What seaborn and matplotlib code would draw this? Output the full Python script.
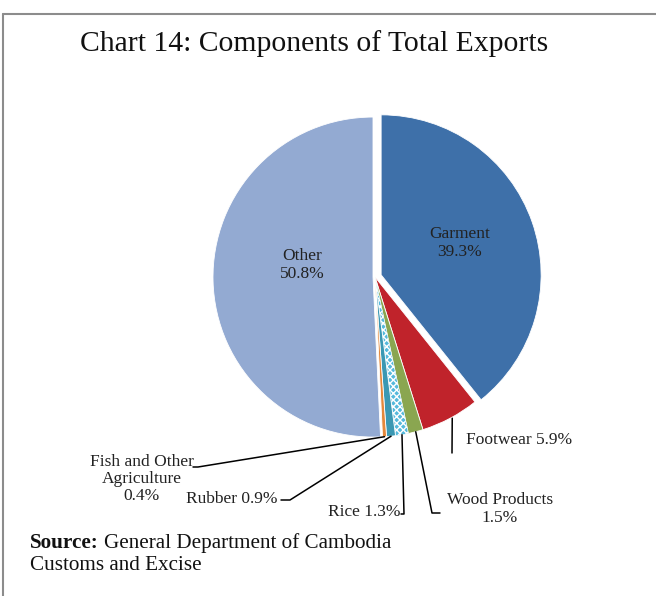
import math
import numpy as np
import matplotlib
matplotlib.use("Agg")
import matplotlib.pyplot as plt
import seaborn as sns

# data
components = ["Garment", "Footwear", "Wood Products", "Rice", "Rubber",
              "Fish and Other Agriculture", "Other"]
shares = [39.3, 5.9, 1.5, 1.3, 0.9, 0.4, 50.8]
colors = ["#3E70A9", "#C0232B", "#8AA650", "#55B9DC", "#3B98B3", "#E4883B", "#93AAD2"]

W, H = 656, 596

sns.set_theme(style="white")
plt.rcParams["font.family"] = ["Liberation Serif", "DejaVu Serif"]


def P(x, y):
    # pixel coords (origin top-left) -> data coords
    return (x, H - y)


fig = plt.figure(figsize=(W / 100, H / 100), dpi=100)
ax = fig.add_axes([0, 0, 1, 1])
ax.set_xlim(0, W)
ax.set_ylim(0, H)
ax.set_aspect("equal")
ax.axis("off")

cx, cy = P(375, 277)
radius = 160
explode = [6.5, 0, 0, 0, 0, 0, 2]
wedges, _ = ax.pie(shares, colors=colors, startangle=90, counterclock=False,
                   radius=radius, center=(cx, cy), explode=explode,
                   wedgeprops=dict(edgecolor="white", linewidth=0.6))
wedges[3].set_hatch("xxxxx")
wedges[3].set_edgecolor("white")
wedges[3].set_linewidth(0.3)
ax.set_xlim(0, W)
ax.set_ylim(0, H)

fs = 12.5
tc = "#222222"

# inside labels
ax.text(*P(460, 243), "Garment\n39.3%", ha="center", va="center",
        fontsize=fs, color=tc, linespacing=1.1)
ax.text(*P(302, 265), "Other\n50.8%", ha="center", va="center",
        fontsize=fs, color=tc, linespacing=1.1)


def edge_point(i, frac=1.0):
    w = wedges[i]
    t = math.radians((w.theta1 + w.theta2) / 2)
    x0, y0 = w.center
    return (x0 + frac * w.r * math.cos(t), y0 + frac * w.r * math.sin(t))


lw = 1.1
# Footwear
s = edge_point(1, 1.0)
ax.plot([s[0] + 2, 452], [s[1], H - 453], color="black", lw=lw)
ax.text(*P(466, 440), "Footwear 5.9%", ha="left", va="center", fontsize=fs, color=tc)
# Wood products
s = edge_point(2, 1.0)
ax.plot([s[0], 432, 440], [s[1], H - 513, H - 513], color="black", lw=lw)
ax.text(*P(500, 509), "Wood Products\n1.5%", ha="center", va="center",
        fontsize=fs, color=tc, linespacing=1.1)
# Rice
s = edge_point(3, 1.0)
ax.plot([s[0], 404, 401], [s[1], H - 514, H - 514], color="black", lw=lw)
ax.text(*P(400, 512), "Rice 1.3%", ha="right", va="center", fontsize=fs, color=tc)
# Rubber
s = edge_point(4, 1.0)
ax.plot([s[0], 290, 281], [s[1], H - 500, H - 500], color="black", lw=lw)
ax.text(*P(278, 499), "Rubber 0.9%", ha="right", va="center", fontsize=fs, color=tc)
# Fish and other agriculture
s = edge_point(5, 1.0)
ax.plot([s[0], 198, 193], [s[1], H - 467, H - 467], color="black", lw=lw)
ax.text(*P(142, 479), "Fish and Other\nAgriculture\n0.4%", ha="center", va="center",
        fontsize=fs, color=tc, linespacing=1.1)

# title
ax.text(*P(314, 44), "Chart 14: Components of Total Exports", ha="center", va="center",
        fontsize=21.3, color="#111111")

# source note
src_fs = 15.2
bold = fig.text(30 / W, 1 - 543 / H, "Source:", ha="left", va="center",
                fontsize=src_fs, fontweight="bold", color="#111111")
fig.canvas.draw()
bb = bold.get_window_extent()
fig.text((bb.x1 + 5) / W, 1 - 543 / H, "General Department of Cambodia", ha="left",
         va="center", fontsize=src_fs, color="#111111")
fig.text(30 / W, 1 - 566 / H, "Customs and Excise", ha="left", va="center",
         fontsize=src_fs, color="#111111")

# frame lines (top and left)
ax.plot([3, W], [H - 14, H - 14], color="#8C8C8C", lw=1.5, clip_on=False)
ax.plot([3, 3], [H - 14, 0], color="#8C8C8C", lw=1.5, clip_on=False)

fig.savefig("out.png", dpi=100)
